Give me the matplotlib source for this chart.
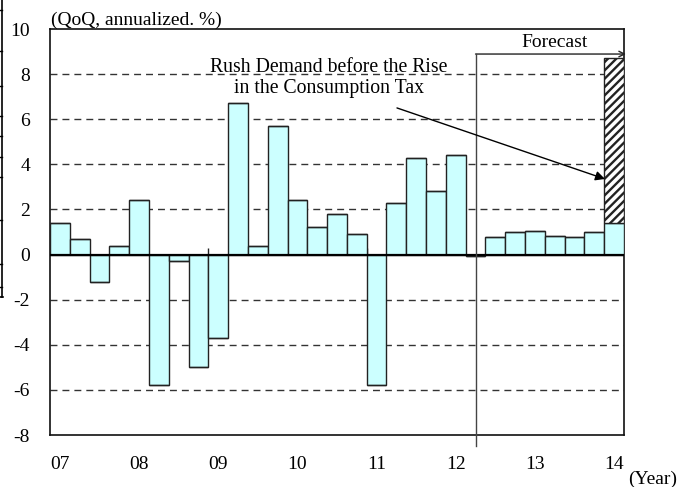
import matplotlib
matplotlib.use("Agg")
import matplotlib.pyplot as plt
from matplotlib.lines import Line2D
import numpy as np

plt.rcParams['font.family'] = ['Liberation Serif', 'DejaVu Serif']
plt.rcParams['hatch.linewidth'] = 1.7
plt.rcParams['hatch.color'] = '#444444'

# Real GDP growth, QoQ annualized (%), 2007Q1 - 2014Q1
growth = [1.4, 0.7, -1.2, 0.4,
          2.4, -5.8, -0.3, -5.0,
          -3.7, 6.7, 0.4, 5.7,
          2.4, 1.2, 1.8, 0.9,
          -5.8, 2.3, 4.3, 2.8,
          4.4, -0.05, 0.8, 1.0,
          1.05, 0.82, 0.78, 1.0,
          1.4]
# extra growth from demand pulled forward ahead of the tax hike (2014Q1)
rush_demand = [0] * 28 + [7.3]
year_labels = ['07', '08', '09', '10', '11', '12', '13', '14']
yticks = [-8, -6, -4, -2, 0, 2, 4, 6, 8, 10]
forecast_start = 21

FS = 14

x = np.arange(len(growth))

fig = plt.figure(figsize=(6.78, 4.87), dpi=100)
ax = fig.add_axes([50 / 678, 1 - 435 / 487, 574 / 678, 406 / 487])

# dashed grid lines (not on the frame or zero line)
for v in yticks:
    if v in (-8, 0, 10):
        continue
    ax.axhline(v, color='#333333', lw=1.0, ls=(0, (5, 3.6)), zorder=1)

# year boundary ticks on the zero line
for k in range(1, 8):
    ax.vlines(4 * k - 0.5, 0, 0.3, color='#222222', lw=1.0, zorder=2)

ax.bar(x, growth, width=1.0, color='#CCFFFF', edgecolor='#222222',
       linewidth=1.0, zorder=3)
ax.bar(x, rush_demand, width=1.0, bottom=growth, color='white',
       edgecolor='#222222', hatch='////', linewidth=1.0, zorder=3)
ax.axhline(0, color='black', lw=1.6, zorder=4)

ax.set_xlim(-0.5, len(growth) - 0.5)
ax.set_ylim(-8, 10)
ax.set_yticks(yticks)
ax.set_yticklabels([str(v) for v in yticks], fontsize=FS)
ax.tick_params(axis='y', length=0, pad=14.4)
ax.set_xticks(x[::4])
ax.set_xticklabels(year_labels, fontsize=FS)
ax.tick_params(axis='x', length=0, pad=15)
for s in ax.spines.values():
    s.set_linewidth(1.2)
    s.set_color('#111111')

ax.text(0.002, 1.0, '(QoQ, annualized. %)', transform=ax.transAxes,
        ha='left', va='bottom', fontsize=FS)
fig.text(677 / 678, 1 - 479 / 487, '(Year)', ha='right', va='center',
         fontsize=FS)

# forecast bracket
ax.plot([forecast_start, forecast_start], [8.89, -8.48], color='#444444',
        lw=1.0, clip_on=False, zorder=5)
ax.annotate('', xy=(28.6, 8.89), xytext=(forecast_start, 8.89),
            arrowprops=dict(arrowstyle='->', color='#222222', lw=1.0,
                            shrinkA=0, shrinkB=0), annotation_clip=False)
ax.text(25, 9.38, 'Forecast', ha='center', va='center', fontsize=FS)

# rush demand annotation
ax.text(13.6, 7.84, 'Rush Demand before the Rise\nin the Consumption Tax',
        ha='center', va='center', fontsize=14.2, linespacing=1.12, zorder=6)
ax.annotate('', xy=(27.54, 3.35), xytext=(17.03, 6.5),
            arrowprops=dict(arrowstyle='-|>', color='black', lw=1.0,
                            mutation_scale=14, shrinkA=0, shrinkB=0),
            zorder=6)

# frame edge of the neighbouring panel on the left
fig.add_artist(Line2D([2 / 678, 2 / 678], [1, 1 - 297 / 487],
                      color='black', lw=1.2))
fig.add_artist(Line2D([0, 3 / 678], [1 - 297 / 487, 1 - 297 / 487],
                      color='black', lw=1.2))
for ty in [10, 51, 86, 116, 136, 157, 177, 220, 264, 287]:
    fig.add_artist(Line2D([0, 2 / 678], [1 - ty / 487, 1 - ty / 487],
                          color='black', lw=1.0))

fig.savefig('out.png', dpi=100)
